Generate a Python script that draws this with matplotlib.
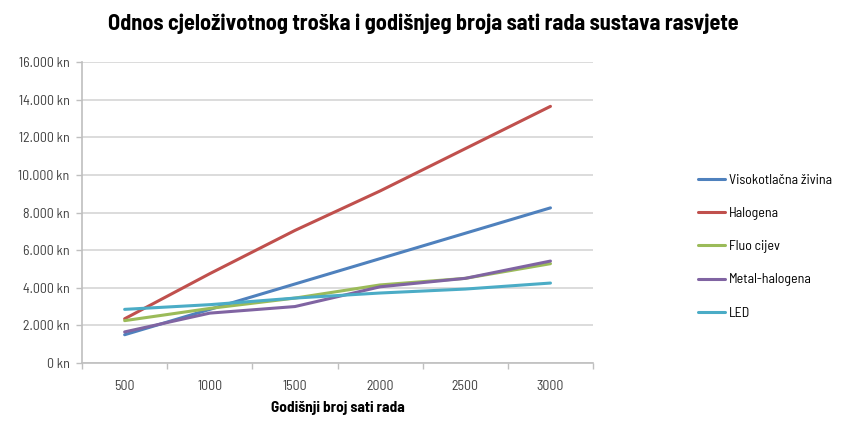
import matplotlib
matplotlib.use('Agg')
import matplotlib.pyplot as plt
from matplotlib.ticker import FuncFormatter

plt.rcParams['font.family'] = ['Barlow Semi Condensed', 'DejaVu Sans']

# sati rada godisnje
sati = ['500', '1000', '1500', '2000', '2500', '3000']

# cjelozivotni trosak (kn)
visokotlacna = [1500, 2850, 4200, 5550, 6900, 8250]
halogena = [2350, 4750, 7050, 9150, 11400, 13650]
fluo = [2250, 2900, 3450, 4150, 4500, 5280]
metal_halogena = [1650, 2650, 3000, 4050, 4500, 5420]
led = [2850, 3100, 3450, 3720, 3930, 4250]

serije = [
    ("Visokotlačna živina", visokotlacna, '#4F81BD'),
    ("Halogena", halogena, '#C0504D'),
    ("Fluo cijev", fluo, '#9BBB59'),
    ("Metal-halogena", metal_halogena, '#8064A2'),
    ("LED", led, '#4BACC6'),
]

fig = plt.figure(figsize=(8.46, 4.23), dpi=100)
ax = fig.add_axes([0.097, 0.142, 0.604, 0.711])

x = range(len(sati))
for naziv, vrijednosti, boja in serije:
    ax.plot(x, vrijednosti, color=boja, lw=2.2, label=naziv, solid_capstyle='round')

ax.set_xlim(-0.5, len(sati) - 0.5)
ax.set_ylim(0, 16000)
ax.set_yticks(range(0, 16001, 2000))
ax.yaxis.set_major_formatter(FuncFormatter(lambda v, p: f"{int(v):,} kn".replace(',', '.')))
ax.set_xticks(list(x))
ax.set_xticklabels(sati)
ax.set_xticks([i + 0.5 for i in range(-1, len(sati))], minor=True)
ax.tick_params(axis='x', which='major', length=0, pad=12, labelsize=10, labelcolor='#404040')
ax.tick_params(axis='x', which='minor', length=4, color='#BFBFBF', width=1)
ax.tick_params(axis='y', length=4, color='#BFBFBF', width=1, labelsize=10, labelcolor='#404040', pad=5)

ax.grid(axis='y', color='#D9D9D9', lw=1.3)
ax.set_axisbelow(True)
for s in ['top', 'right']:
    ax.spines[s].set_visible(False)
for s in ['left', 'bottom']:
    ax.spines[s].set_color('#BFBFBF')
    ax.spines[s].set_linewidth(1.2)

ax.set_xlabel("Godišnji broj sati rada", fontsize=11, fontweight='bold', labelpad=6)
fig.suptitle("Odnos cjeloživotnog troška i godišnjeg broja sati rada sustava rasvjete",
             fontsize=16, fontweight='bold', x=0.5, y=0.968)

ax.legend(loc='center left', bbox_to_anchor=(1.18, 0.386), frameon=False,
          fontsize=10, handlelength=2.0, handletextpad=0.25, labelspacing=1.45)

plt.savefig("out.png", dpi=100)
